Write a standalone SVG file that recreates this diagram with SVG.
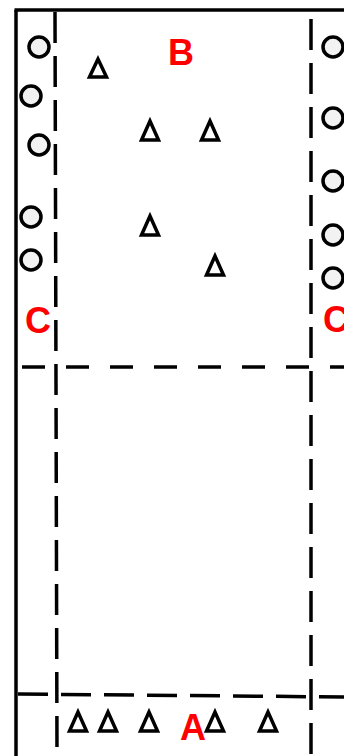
<svg xmlns="http://www.w3.org/2000/svg" width="344" height="756" viewBox="0 0 344 756">
<style>
.solid{stroke:#000;stroke-width:3.5;fill:none}
.dv{stroke:#000;stroke-width:3.5;fill:none;stroke-dasharray:31 13}
.dh{stroke:#000;stroke-width:3.5;fill:none;stroke-dasharray:23 21}
.dh2{stroke:#000;stroke-width:3.5;fill:none;stroke-dasharray:30 13}
.c{fill:#f2f2f2;stroke:#000;stroke-width:3.5}
.t{fill:#fff;stroke:#000;stroke-width:3.5;stroke-linejoin:miter}
.lbl{font-family:"Liberation Sans",Arial,sans-serif;font-weight:bold;font-size:36px;fill:#ff0000;text-anchor:middle}
</style>
<rect width="344" height="756" fill="#fff"/>
<g id="connectors">
<line class="solid" x1="16" y1="10" x2="16" y2="756"/>
<line class="solid" x1="14.5" y1="10" x2="344" y2="10"/>
<line class="dv" x1="55" y1="12" x2="57" y2="756"/>
<line class="dv" x1="311" y1="19" x2="311" y2="756"/>
<line class="dh" x1="22" y1="367" x2="344" y2="367"/>
<line class="dh2" x1="18" y1="694" x2="344" y2="697"/>
</g>
<g id="circles">
<circle class="c" cx="39" cy="47" r="10"/>
<circle class="c" cx="31" cy="96" r="10"/>
<circle class="c" cx="39" cy="145" r="10"/>
<circle class="c" cx="31" cy="217" r="10"/>
<circle class="c" cx="31" cy="260" r="10"/>
<circle class="c" cx="333" cy="47" r="10"/>
<circle class="c" cx="333" cy="118" r="10"/>
<circle class="c" cx="333" cy="181" r="10"/>
<circle class="c" cx="333" cy="235" r="10"/>
<circle class="c" cx="333" cy="278" r="10"/>
</g>
<g id="triangles">
<path class="t" d="M98,59 L89.5,77 L106.5,77 Z"/>
<path class="t" d="M150,121 L141.5,140 L158.5,140 Z"/>
<path class="t" d="M210,121 L201.5,140 L218.5,140 Z"/>
<path class="t" d="M150,216 L141.5,235 L158.5,235 Z"/>
<path class="t" d="M215,256 L206.5,275 L223.5,275 Z"/>
<path class="t" d="M78,712 L69.5,731 L86.5,731 Z"/>
<path class="t" d="M108,712 L99.5,731 L116.5,731 Z"/>
<path class="t" d="M149,712 L140.5,731 L157.5,731 Z"/>
<path class="t" d="M215,712 L206.5,731 L223.5,731 Z"/>
<path class="t" d="M268,712 L259.5,731 L276.5,731 Z"/>
</g>
<g id="labels">
<text class="lbl" x="181" y="65">B</text>
<text class="lbl" x="38" y="333">C</text>
<text class="lbl" x="336" y="332">C</text>
<text class="lbl" x="193" y="740">A</text>
</g>
</svg>
